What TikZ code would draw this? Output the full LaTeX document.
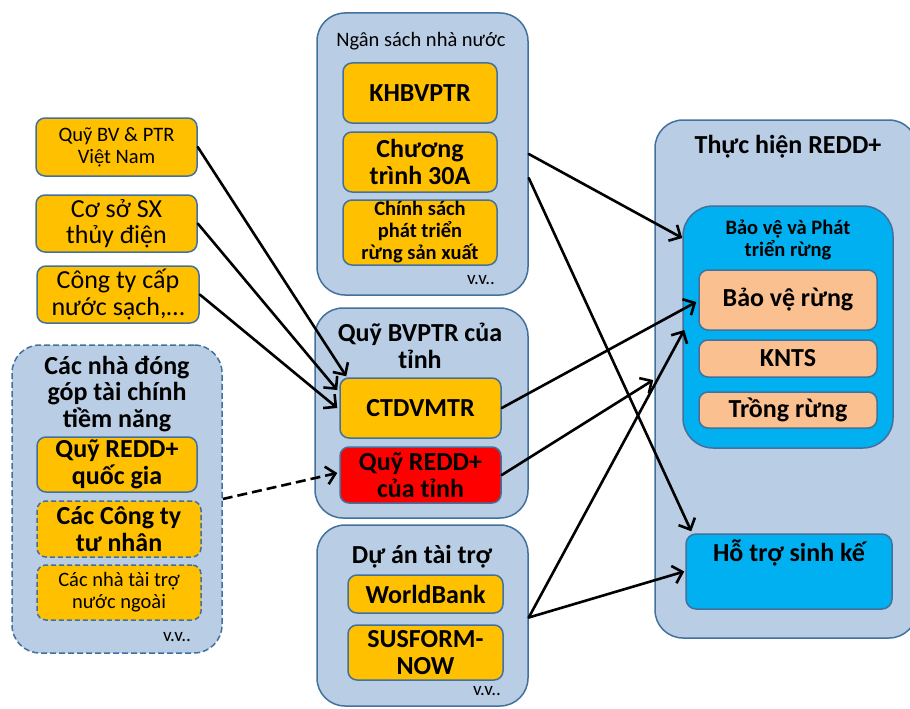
\documentclass[tikz,border=0pt]{standalone}
\usepackage{fontspec}
\setmainfont{Carlito}
\usetikzlibrary{arrows.meta,calc}

\definecolor{panelfill}{HTML}{B9CDE5}
\definecolor{edgeblue}{HTML}{41719C}
\definecolor{goldfill}{HTML}{FFC000}
\definecolor{cyanfill}{HTML}{00B0F0}
\definecolor{peachfill}{HTML}{FAC090}
\definecolor{redfill}{HTML}{FF0000}

\newcommand\fbig{\fontsize{26}{26.5}\selectfont}
\newcommand\fmid{\fontsize{20.5}{22}\selectfont}
\newcommand\fsm{\fontsize{19}{20}\selectfont}

\tikzset{
  panel/.style={draw=edgeblue, fill=panelfill, line width=1.5pt, rounded corners=28pt,
    rectangle, inner sep=0pt},
  dashpanel/.style={panel, dash pattern=on 6pt off 3pt},
  goldbox/.style={draw=edgeblue, fill=goldfill, line width=1.5pt, rounded corners=9pt,
    rectangle, align=center, inner sep=0pt},
  dashgold/.style={goldbox, dash pattern=on 5pt off 3pt},
  redbox/.style={goldbox, fill=redfill},
  peachbox/.style={goldbox, fill=peachfill},
  cyanbox/.style={draw=edgeblue, fill=cyanfill, line width=1.5pt, rectangle, inner sep=0pt},
  title/.style={align=center, inner sep=0pt},
  big/.style={font=\fbig\bfseries},
  bigreg/.style={font=\fbig},
  mid/.style={font=\fmid\bfseries},
  midreg/.style={font=\fmid},
  small/.style={font=\fsm},
  flow/.style={line width=2.6pt, line cap=round, line join=round,
    -{Straight Barb[length=9pt,width=18pt,line width=2.6pt]}},
  dashflow/.style={flow, line cap=butt, dash pattern=on 10pt off 5pt}
}

\begin{document}
\begin{tikzpicture}[x=1pt,y=-1pt]
\useasboundingbox (0,0) rectangle (910,709);
\clip (0,0) rectangle (910,709);

% ---- group panels ----
\node[dashpanel, minimum width=210pt, minimum height=308pt] (potential) at (117,499) {};
\node[panel, minimum width=211pt, minimum height=282pt] (nsnn) at (422.5,154) {};
\node[panel, minimum width=213pt, minimum height=210pt] (quytinh) at (421.5,413) {};
\node[panel, minimum width=211pt, minimum height=181pt] (duan) at (422.5,615.5) {};
\node[panel, minimum width=262pt, minimum height=518pt] (redd) at (786,379) {};
\node[cyanbox, rounded corners=30pt, minimum width=210pt, minimum height=242pt] (bvpt) at (788,327) {};

% ---- panel titles ----
\node[title, big] (potentialT) at (117,394) {Các nhà đóng\\góp tài chính\\tiềm năng};
\node[title, midreg] (nsnnT) at (421,41) {Ngân sách nhà nước};
\node[title, big] (quytinhT) at (420,346) {Quỹ BVPTR của\\tỉnh};
\node[title, big] (duanT) at (422,557) {Dự án tài trợ};
\node[title, big] (reddT) at (788,147) {Thực hiện REDD+};
\node[title, mid] (bvptT) at (788,240) {Bảo vệ và Phát\\triển rừng};

% ---- source boxes ----
\node[goldbox, midreg, minimum width=161pt, minimum height=58pt] (qbv) at (116.5,147) {Quỹ BV \& PTR\\Việt Nam};
\node[goldbox, bigreg, minimum width=161pt, minimum height=57pt] (cssx) at (116.5,223.5) {Cơ sở SX\\thủy điện};
\node[goldbox, bigreg, minimum width=162pt, minimum height=57pt] (ctcn) at (118,294.5) {Công ty cấp\\nước sạch,…};

% ---- potential contributors ----
\node[goldbox, big, minimum width=160pt, minimum height=55pt] (qrqg) at (117,464.5) {Quỹ REDD+\\quốc gia};
\node[dashgold, big, minimum width=164pt, minimum height=56pt] (cctn) at (119,529) {Các Công ty\\tư nhân};
\node[dashgold, midreg, minimum width=164pt, minimum height=55pt] (nttnn) at (119,592.5) {Các nhà tài trợ\\nước ngoài};
\node[title, small] (vv1) at (177,637) {v.v..};

% ---- state budget ----
\node[goldbox, big, minimum width=154pt, minimum height=60pt] (khb) at (420,93) {KHBVPTR};
\node[goldbox, big, minimum width=154pt, minimum height=60pt] (ct30) at (420,162) {Chương\\trình 30A};
\node[goldbox, mid, minimum width=154pt, minimum height=65pt] (cs) at (420,232.5) {Chính sách\\phát triển\\rừng sản xuất};
\node[title, small] (vv2) at (481,280) {v.v..};

% ---- provincial fund ----
\node[goldbox, big, minimum width=161pt, minimum height=60pt] (ctdv) at (420.5,408) {CTDVMTR};
\node[redbox, big, minimum width=161pt, minimum height=56pt] (qrt) at (420.5,475) {Quỹ REDD+\\của tỉnh};

% ---- funded projects ----
\node[goldbox, big, minimum width=155pt, minimum height=38pt] (wb) at (425.5,594) {WorldBank};
\node[goldbox, big, minimum width=155pt, minimum height=55pt] (sus) at (425.5,652.5) {SUSFORM-\\NOW};
\node[title, small] (vv3) at (487,691) {v.v..};

% ---- REDD+ implementation ----
\node[peachbox, big, minimum width=178pt, minimum height=60pt] (bvr) at (788,300) {Bảo vệ rừng};
\node[peachbox, big, minimum width=178pt, minimum height=37pt] (knts) at (788,358.5) {KNTS};
\node[peachbox, big, minimum width=178pt, minimum height=36pt] (trr) at (788,410) {Trồng rừng};
\node[cyanbox, rounded corners=10pt, minimum width=206pt, minimum height=75pt] (htsk) at (789,571.5) {};
\node[title, big] (htskT) at (789,553) {Hỗ trợ sinh kế};

% ---- flows ----
\draw[flow] (qbv.east) -- ($(ctdv.north west)+(7,-1)$);
\draw[flow] (cssx.east) -- ($(ctdv.west)+(-2,-18)$);
\draw[flow] (ctcn.east) -- ($(ctdv.west)+(-2,0)$);
\draw[dashflow] (potential.east) -- ($(qrt.west)+(-2,-2)$);
\draw[flow] (nsnn.east) -- ($(bvpt.west)+(0,-89)$);
\draw[flow] ($(nsnn.east)+(0,24)$) -- ($(htsk.north west)+(6,-2)$);
\draw[flow] (ctdv.east) -- ($(bvr.west)+(-2,2)$);
\draw[flow] (qrt.east) -- ($(redd.west)+(-1,1)$);
\draw[flow] ($(duan.east)+(0,2)$) -- ($(bvpt.west)+(2,3)$);
\draw[flow] ($(duan.east)+(0,2)$) -- ($(htsk.west)+(-1,0)$);
\end{tikzpicture}
\end{document}
